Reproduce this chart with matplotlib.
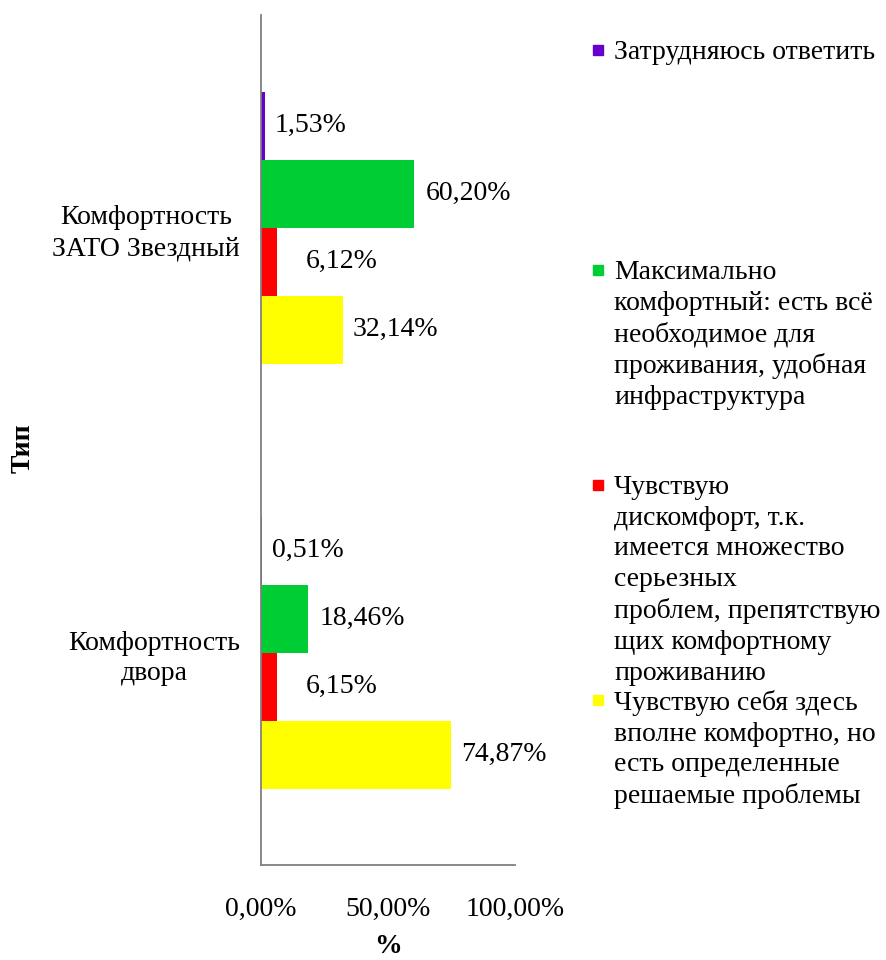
import matplotlib
matplotlib.use("Agg")
import matplotlib.pyplot as plt
from matplotlib.lines import Line2D

plt.rcParams['font.family'] = ['Liberation Serif', 'DejaVu Serif']

categories = ['Комфортность\nдвора', 'Комфортность\nЗАТО Звездный']
series_names = [
    'Затрудняюсь ответить',
    'Максимально\nкомфортный: есть всё\nнеобходимое для\nпроживания, удобная\nинфраструктура',
    'Чувствую\nдискомфорт, т.к.\nимеется множество\nсерьезных\nпроблем, препятствую\nщих комфортному\nпроживанию',
    'Чувствую себя здесь\nвполне комфортно, но\nесть определенные\nрешаемые проблемы',
]
difficult = [0.51, 1.53]
max_comfort = [18.46, 60.20]
discomfort = [6.15, 6.12]
fairly_comfort = [74.87, 32.14]
x_ticks = [0, 50, 100]

series = [difficult, max_comfort, discomfort, fairly_comfort]
colors = ['#6600CC', '#00CC33', '#FF0000', '#FFFF00']
label_offsets = [10, 12, 29, 10]  # pixels right of bar end
h = 0.16
fs = 20

fig = plt.figure(figsize=(8.86, 9.6), dpi=100)
ax = fig.add_axes([261 / 886, 1 - 865 / 960, 254 / 886, 850 / 960])

ypos = range(len(categories))
for i, (vals, col) in enumerate(zip(series, colors)):
    off = (1.5 - i) * h
    yy = [y + off for y in ypos]
    ax.barh(yy, vals, height=h, color=col, linewidth=0)
    for y, v in zip(yy, vals):
        ax.annotate(f'{v:.2f}%'.replace('.', ','), (v, y), xytext=(label_offsets[i], 0),
                    textcoords='offset pixels', va='center', ha='left', fontsize=fs)

ax.set_xlim(0, 100)
ax.set_ylim(-0.5, 1.5)
ax.set_yticks(list(ypos))
ax.set_yticklabels(categories, fontsize=fs, multialignment='center', linespacing=1.3)
ax.set_xticks(x_ticks)
ax.set_xticklabels([f'{t:.2f}%'.replace('.', ',') for t in x_ticks], fontsize=fs)
ax.tick_params(axis='both', length=0)
ax.tick_params(axis='x', pad=23)
ax.tick_params(axis='y', pad=15)
for s in ['top', 'right']:
    ax.spines[s].set_visible(False)
for s in ['left', 'bottom']:
    ax.spines[s].set_color('#808080')
    ax.spines[s].set_linewidth(1.3)

ax.set_xlabel('%', fontsize=fs, fontweight='bold', labelpad=9)
ax.set_ylabel('Тип', fontsize=fs, fontweight='bold')
ax.yaxis.set_label_coords(-225 / 254, 0.49)

# legend, drawn by hand so entries sit at Excel-like fixed slots
slots = [50, 270, 485, 700]
for name, col, ytop in zip(series_names, colors, slots):
    fig.add_artist(Line2D([598 / 886], [1 - ytop / 960], marker='s', markersize=6.5,
                          color=col, linestyle='none', transform=fig.transFigure))
    fig.text(614 / 886, 1 - (ytop - 10) / 960, name, fontsize=fs, va='top', ha='left',
             linespacing=1.3)

fig.savefig('out.png', dpi=100)
